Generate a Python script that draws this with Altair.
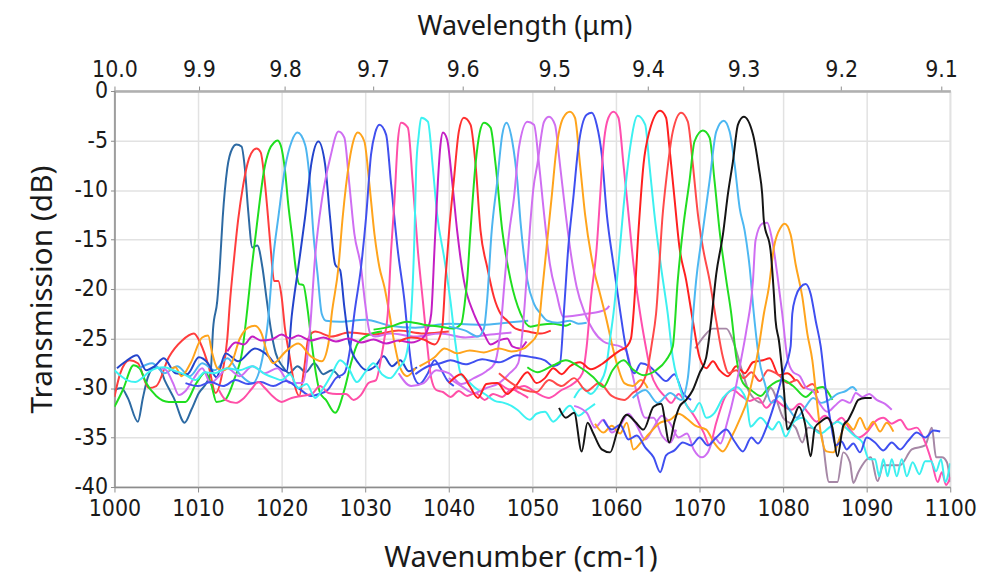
import altair as alt
import pandas as pd

# ---------------- data (wavenumber cm-1, transmission dB) ----------------
S01 = [(1000,-30.2),(1000.8,-30),(1001.6,-31),(1002.8,-33.4),(1003.4,-31),(1004,-28.9),(1004.8,-27.9),(1005.4,-28),(1006,-29.2),(1007.1,-31),(1008.4,-33.5),(1009.2,-32.2),(1010.1,-30.5),(1011,-29.5),(1011.5,-28.5),(1011.8,-24),(1012.3,-21.2),(1012.6,-17.8),(1012.95,-12.8),(1013.5,-7.8),(1014.1,-5.8),(1014.6,-5.4),(1015.2,-5.6),(1015.6,-7.8),(1016,-12.1),(1016.5,-15.8),(1017.1,-15.6),(1017.7,-17.8),(1018.2,-21),(1018.7,-24),(1019.3,-26.5),(1020.1,-27.8),(1020.9,-28.5),(1021.9,-27.8),(1022.9,-28.4),(1023.9,-27.5),(1025,-28.6),(1026,-28.2),(1027,-29)]
S02 = [(1000,-30.9),(1000.7,-28.5),(1001.8,-27.2),(1002.8,-27.5),(1004.1,-30),(1005,-29.8),(1006.5,-26.9),(1008.1,-25.2),(1009.5,-24.5),(1010.3,-25.5),(1011.3,-27.9),(1012.1,-30.5),(1012.9,-28.5),(1013.5,-25),(1013.8,-21.5),(1014.3,-17),(1014.8,-13),(1015.4,-9.5),(1016.1,-6.8),(1016.6,-6),(1017,-5.8),(1017.5,-6.2),(1017.9,-8.5),(1018.3,-12),(1018.7,-16),(1019.1,-19.2),(1019.6,-19.2),(1020,-20.8),(1020.4,-24),(1020.9,-26.5),(1021.5,-29.5),(1022.1,-30.8),(1022.7,-28),(1023.2,-25),(1024,-24.3),(1026,-24.8),(1028,-24.4),(1031,-24.6),(1034,-24.2),(1037,-24.5),(1040,-24.3)]
S03 = [(1000,-31.9),(1001,-30.2),(1002.3,-27.7),(1003,-28),(1003.8,-29.5),(1005,-30.8),(1006.5,-31.4),(1008.5,-31.4),(1009.8,-29.5),(1010.9,-28.4),(1011.6,-29.7),(1012.2,-31.4),(1013.2,-31.2),(1014.3,-29.2),(1015.3,-26.2),(1015.9,-22),(1016.4,-18),(1016.9,-14.5),(1017.4,-11),(1017.9,-8),(1018.5,-6),(1019.1,-5.2),(1019.5,-5.0),(1019.9,-5.5),(1020.4,-8),(1020.8,-11.5),(1021.3,-15),(1021.7,-18),(1022.1,-19.5),(1022.6,-19.6),(1023.1,-22),(1023.6,-25.5),(1024.1,-28.5),(1024.6,-30.5),(1025.3,-31.2),(1026.4,-32.5),(1027.5,-30.2),(1028.3,-27.5),(1029.1,-25.5),(1030.5,-24.6),(1032,-24.3)]
S04 = [(1003,-28),(1004.5,-27.5),(1006,-28.5),(1007.5,-27.8),(1009,-28.8),(1010.5,-27.5),(1012,-28.2),(1013.5,-27),(1015,-28.6),(1016.5,-29.5),(1017.7,-27),(1018.4,-23),(1019,-16.8),(1019.6,-12.8),(1020.4,-7.8),(1021.2,-5.1),(1021.9,-4.2),(1022.8,-5.4),(1023.4,-9.4),(1023.8,-14.4),(1024.3,-18.5),(1024.8,-22.5),(1025.3,-23.2),(1027,-23.3),(1030,-23.1),(1033,-23.7),(1036,-23.9),(1040,-23.5),(1044,-23.6),(1047,-23.4),(1049.5,-23.2)]
S05 = [(1000.3,-28),(1001.2,-27.4),(1002.7,-26.7),(1003.8,-28.2),(1004.8,-27.8),(1005.9,-27),(1007.3,-28.5),(1008.7,-28.6),(1010.1,-26.9),(1011.2,-27.5),(1012.2,-28.9),(1013.3,-26.5),(1014.8,-27.3),(1016.8,-26),(1018.2,-26.6),(1019.5,-27.8),(1020.6,-28.3),(1021.2,-22.8),(1022,-17.8),(1022.8,-12.8),(1023.6,-7.1),(1024.4,-5.1),(1025.2,-7.4),(1025.8,-12.8),(1026.4,-17.5),(1027,-18.1),(1027.5,-21.8),(1028.1,-25.5),(1029.2,-27.5),(1030.2,-28.2),(1031.2,-27.8),(1032.2,-26.8),(1033.2,-27.8),(1034.2,-27.2),(1035.2,-28.3),(1036.2,-27.9)]
S06 = [(1005.6,-28),(1006.2,-28.2),(1007,-29.5),(1007.7,-30.7),(1008.5,-30.3),(1009.5,-29),(1010.5,-28),(1011.5,-29.5),(1012.5,-28.8),(1013.5,-28),(1015,-28.8),(1016.5,-27.8),(1018,-28.5),(1019.5,-28),(1021,-29.5),(1022.5,-29.5),(1023.4,-24),(1024,-16.8),(1024.8,-11.1),(1025.8,-6.8),(1026.8,-4.1),(1027.5,-4.7),(1028.1,-9.4),(1028.7,-14.4),(1029.5,-17.8),(1030,-21.5),(1030.6,-24.5),(1031.2,-24.8),(1033,-24.5),(1036,-24.8),(1039,-24.5),(1042,-24.9),(1045,-24.6),(1047.5,-24.4)]
S07 = [(1006.5,-28.2),(1007.3,-27.9),(1008,-28.8),(1009.1,-27.5),(1010.5,-24.9),(1011.2,-24.7),(1011.7,-26.5),(1012.3,-28),(1013,-28.2),(1014,-27.5),(1015,-25),(1016,-23.9),(1016.8,-23.7),(1017.6,-24.5),(1018.3,-26.5),(1019,-27.5),(1020.5,-26.3),(1022,-25.5),(1023.5,-26.8),(1024.8,-27.3),(1025.6,-25.5),(1026,-22.5),(1026.8,-17.8),(1027.3,-12.8),(1028.1,-7.1),(1028.6,-5),(1029.1,-4.2),(1029.9,-5.1),(1030.5,-9.4),(1031.1,-14.4),(1031.7,-17.8),(1032.3,-19.8),(1032.9,-22.5),(1033.5,-25.5),(1034.2,-28),(1035,-28.8),(1036,-28)]
S08 = [(1008.5,-29.5),(1010,-29.8),(1011.5,-29.4),(1013,-29.8),(1014.5,-29.2),(1016,-29.6),(1017.5,-29.4),(1019,-29.8),(1020.5,-29.3),(1022,-30),(1023.5,-30.8),(1024.5,-30.6),(1025.5,-30.2),(1026.5,-29),(1027.5,-28.5),(1028.2,-26),(1028.7,-22.5),(1029.5,-17.8),(1030.1,-12.8),(1030.7,-6.4),(1031.2,-4.2),(1031.7,-3.4),(1032.5,-4.4),(1033.1,-9.4),(1033.9,-16.1),(1034.7,-21.2),(1035.2,-25.5),(1035.7,-28.5),(1036.5,-29.6),(1037.5,-28.5),(1038.3,-27.2),(1039,-28),(1039.8,-29.2),(1040.6,-29.8)]
S09 = [(1012.5,-30.2),(1013.3,-31.2),(1014.5,-31.5),(1015.5,-31),(1016.4,-30.1),(1017.2,-29.4),(1018,-30),(1018.9,-30.8),(1020,-31.4),(1021.2,-31),(1022.4,-30.8),(1023.6,-30.6),(1024.6,-29.8),(1025.6,-30.5),(1026.6,-30.6),(1027.7,-30.6),(1028.6,-31.2),(1029.5,-30.7),(1030.4,-29.5),(1031.3,-29.2),(1031.9,-27),(1032.3,-25),(1032.7,-22.5),(1033.1,-16.1),(1033.5,-11.1),(1033.9,-5.1),(1034.3,-3.2),(1035.1,-3.7),(1035.7,-9.4),(1036.3,-16.1),(1036.9,-21.2),(1037.4,-25.5),(1037.9,-29),(1038.5,-30.2),(1039.3,-30.4),(1040.2,-30.9),(1041.2,-30.3),(1042.2,-30.8),(1043.2,-30.5),(1044.3,-31.2),(1045.3,-30.6),(1046.4,-30.9),(1047.5,-30.1),(1048.5,-30.5),(1049.5,-31)]
S10 = [(1000,-28.2),(1000.8,-28.8),(1001.5,-29.2),(1002.5,-29.4),(1003.3,-29),(1004.1,-28.4),(1005,-28),(1006,-27.9),(1007,-28.2),(1008.3,-28.6),(1009.7,-29.2),(1010.8,-28.4),(1012,-28.5),(1013.5,-28),(1015,-28.2),(1016.5,-27.8),(1018,-28.6),(1019.2,-29),(1020,-29.2),(1021,-28.6),(1022,-30),(1023,-29.6),(1024,-31),(1025,-30),(1026,-28.6),(1027,-27.2),(1028,-28),(1029,-29.4),(1030,-28.4),(1031,-27.5),(1032,-28.6),(1033,-29),(1034,-28),(1034.8,-27),(1035.5,-22.5),(1035.9,-14.4),(1036.1,-7.8),(1036.4,-4.5),(1036.7,-2.7),(1037.5,-3.1),(1038.1,-7.8),(1038.6,-12.4),(1039.5,-17.1),(1040.2,-21.2),(1040.8,-25.5),(1041.4,-28.5),(1042.2,-29.2),(1043.2,-30),(1044.3,-30.6),(1045.5,-31.3),(1046.6,-31.5),(1047.5,-31.8),(1048.2,-32.2),(1049.7,-33.2),(1050.5,-32.6),(1051.5,-32.4),(1052.5,-33.4),(1053.5,-32.6),(1054.5,-31.8),(1055.5,-32.8),(1056.5,-32.2),(1057.5,-31.6)]
S11 = [(1013.5,-26.3),(1014.5,-25.4),(1015.5,-25.6),(1016.5,-24.8),(1017.5,-25.2),(1018.8,-25.1),(1020,-24.6),(1021,-25),(1022,-24.7),(1023.5,-25.2),(1025,-24.9),(1026.5,-25.3),(1028,-25),(1029.5,-25.4),(1031,-25.1),(1032.5,-25.5),(1034,-25.2),(1035.5,-25.4),(1036.8,-25),(1037.5,-24),(1037.9,-22.5),(1038.3,-15.8),(1038.7,-9.1),(1039,-5.5),(1039.3,-4.2),(1039.8,-4.9),(1040.4,-9.1),(1041,-14.1),(1041.8,-19.1),(1043,-22.5),(1044.2,-24.5),(1045,-25.6),(1046,-25.2),(1047,-25),(1047.6,-25.8),(1048.5,-26),(1049.3,-25.3)]
S12 = [(1034,-25.3),(1035.5,-24.9),(1037,-25.1),(1038.3,-25.6),(1039.2,-24),(1039.6,-19),(1040.1,-13.5),(1040.6,-9.1),(1041.2,-4.1),(1041.8,-2.7),(1042.6,-3.4),(1043.2,-7.4),(1043.8,-14.1),(1044.6,-17.8),(1045.4,-20.8),(1046.2,-22.5),(1047,-23.2),(1048,-24),(1049.5,-24.3),(1051,-24.5),(1052.2,-24.2)]
S13 = [(1031,-24.1),(1033,-23.8),(1035,-23.3),(1037,-23.6),(1039,-23.8),(1040.5,-24),(1041.5,-23.5),(1041.9,-21.5),(1042.2,-19.1),(1042.6,-14.1),(1043.2,-7.4),(1043.7,-4.2),(1044.2,-3.2),(1045,-3.7),(1045.6,-7.4),(1046.4,-14.1),(1047.4,-19.1),(1048.6,-22.5),(1049.8,-23.8),(1051,-23.6),(1052.5,-23.5),(1054,-23.7),(1054.6,-23.5)]
S14 = [(1040,-23.8),(1042,-24.2),(1043.5,-24.8),(1044.2,-24),(1044.6,-21),(1045.1,-14.5),(1045.8,-9.1),(1046.4,-4.4),(1046.9,-3.2),(1047.6,-5.1),(1048.2,-9.1),(1048.6,-13.4),(1049.4,-19.1),(1050.2,-21.5),(1051,-22.5),(1051.8,-23.2),(1053,-23.4),(1054.5,-23.2),(1055.5,-23.5),(1056.5,-23.4)]
S15 = [(1034,-28.5),(1035.5,-29.8),(1037,-29.5),(1038.5,-28.2),(1040,-28.5),(1041.5,-29.6),(1043,-29),(1044.5,-28.3),(1045.5,-27.5),(1046.2,-24),(1046.7,-19),(1047.2,-14.5),(1047.8,-10.8),(1048.4,-5.7),(1049.4,-3.1),(1050.2,-3.4),(1050.8,-7.4),(1051.4,-12.4),(1052.1,-17.5),(1052.9,-20.5),(1053.7,-22.8),(1055,-22.7),(1056.5,-22.5),(1058,-22.3),(1058.9,-22),(1059.2,-21.7)]
S16 = [(1040,-29),(1041.5,-29.8),(1043,-30.5),(1044.5,-30),(1046,-29.5),(1047.3,-28.5),(1048.3,-27.5),(1048.8,-24.5),(1049.3,-19),(1049.7,-14),(1050.1,-10),(1050.6,-7.4),(1051.4,-3.1),(1052,-2.6),(1052.7,-3.4),(1053.3,-7.4),(1053.9,-11.8),(1054.5,-15.8),(1055.3,-19.8),(1056.3,-22.5),(1057.3,-24.2),(1058.5,-25.3),(1059.5,-25.6),(1060.5,-25.8),(1061.2,-26.2),(1061.8,-28),(1062.5,-30.5),(1063.5,-33),(1064.5,-33),(1065.5,-34.8),(1066.5,-35.5),(1067.2,-34.2)]
S17 = [(1036.5,-27.8),(1038.3,-26.9),(1039.5,-26),(1041,-26.5),(1042.5,-26.2),(1044.2,-26.4),(1046,-26),(1047.5,-26.3),(1049,-26),(1049.7,-25.5),(1050.6,-24.5),(1051.2,-20),(1051.7,-15.8),(1052.3,-10.8),(1052.9,-5.7),(1053.7,-2.7),(1054.5,-2.1),(1055.1,-2.7),(1055.7,-7.4),(1056.3,-12.4),(1057.3,-17.8),(1058.1,-20.5),(1058.9,-23.2),(1059.5,-25.5),(1060.2,-27.8),(1061,-29.5),(1062,-29.8),(1063,-29.2),(1063.8,-30)]
S18 = [(1036,-28.6),(1037.5,-27.8),(1039,-27.5),(1040.2,-27.2),(1042,-27.6),(1044,-27.1),(1046,-27.4),(1048.2,-26.7),(1050,-26.9),(1051.5,-27.2),(1052.5,-27.8),(1053.3,-27.5),(1053.8,-22),(1054.3,-15.8),(1054.9,-10.8),(1055.5,-5.7),(1056.5,-2.4),(1057.1,-2.2),(1057.7,-3.4),(1058.3,-6.4),(1058.9,-12.4),(1059.7,-17.5),(1060.5,-22.2),(1061.1,-25.5),(1061.6,-27.5),(1062.2,-28.5),(1063,-27.5),(1064,-27.8),(1065,-28.6),(1066,-29.3),(1067,-28.6),(1068,-30.5),(1069,-31.2)]
S19 = [(1046,-29.5),(1047.5,-30.2),(1049,-29.8),(1050.5,-30.5),(1052,-31),(1053.5,-30.2),(1055,-29.5),(1056,-28.5),(1056.5,-25.8),(1057,-21),(1057.7,-15.8),(1058.1,-10.8),(1058.5,-5.7),(1059.1,-2.7),(1059.7,-2.1),(1060.3,-2.7),(1060.9,-7.4),(1061.5,-12.4),(1062.1,-17.5),(1062.9,-22.5),(1063.5,-25.5),(1064.2,-28.5),(1065,-30),(1065.8,-30.8),(1066.6,-31.5),(1067.5,-30.6),(1068.5,-31.8),(1069.5,-33),(1070.5,-34.5),(1071.2,-35.8),(1072,-33.5),(1073,-31),(1074,-30.2),(1075,-30.8),(1076,-31.3),(1077,-31),(1078,-32),(1079,-31.2),(1080,-31.8),(1081,-32.2),(1082,-31.6),(1083,-32.5),(1084,-33.4),(1085,-32.8),(1086,-33.6),(1087,-33),(1088,-34.2),(1089,-35),(1090,-34.5),(1091,-33.4),(1092,-33),(1093,-33.6),(1094,-33.2),(1095,-34.2),(1096,-34),(1097,-35.5),(1097.8,-37.5),(1098.5,-39.5),(1099,-38.5),(1099.5,-39.8),(1100,-39)]
S20 = [(1055,-31),(1056,-30),(1057,-30.6),(1058,-29.6),(1058.8,-28),(1059.3,-25),(1059.7,-22.5),(1060.3,-17.5),(1060.9,-11.8),(1061.7,-5.7),(1062.6,-2.5),(1063.5,-3.4),(1064,-7.4),(1064.6,-12.4),(1065.4,-17.8),(1066.2,-22.5),(1066.8,-26.9),(1067.5,-29.5),(1068.3,-31.5),(1069.2,-32.4),(1070,-31.5),(1070.8,-33),(1071.8,-32.5),(1072.8,-31),(1073.8,-30.2),(1074.4,-29.9),(1075.6,-31.2),(1076.1,-33.9),(1077.3,-33),(1078.7,-34.2),(1079.5,-33.4),(1080.3,-34.9),(1081.2,-33.5),(1082.3,-33),(1083.3,-33.8),(1084.5,-34.6),(1085.5,-34),(1086.5,-33.4),(1087.5,-34),(1088.5,-34.8),(1089.5,-35.5),(1090.3,-37.2),(1091,-37.2),(1091.5,-38.9),(1092,-37.2),(1092.5,-38.9),(1093,-37.2),(1093.6,-38.9),(1094.2,-37.2),(1094.8,-38.9),(1095.5,-37.5),(1096.3,-38.7),(1097,-37.4),(1097.7,-37.4),(1098.3,-38.4),(1098.9,-37.2),(1099.4,-39.5),(1100,-37.6)]
S21 = [(1040,-29.5),(1041.5,-28.6),(1042.5,-29.8),(1043.5,-31),(1044.5,-29.6),(1045.8,-29.5),(1047,-30.6),(1048,-29.8),(1049.4,-28.4),(1050.5,-29.5),(1051.5,-29),(1052.5,-28),(1053.5,-28.6),(1054.5,-27.8),(1055.7,-27.4),(1057,-28.1),(1058.3,-27.6),(1059.5,-26.8),(1060.5,-26.2),(1061.3,-25.8),(1061.8,-25),(1062.1,-22.5),(1062.7,-14.1),(1063.3,-7.4),(1064,-4.1),(1065.3,-2),(1066,-2.7),(1066.4,-5.7),(1067,-10.8),(1067.6,-15.8),(1068.4,-19.1),(1069.2,-23.2),(1070,-26.9),(1070.8,-28),(1071.6,-27.3),(1072.4,-28.2),(1073.4,-28.8),(1074.4,-27.8),(1075.4,-28.5),(1076.4,-27.4),(1077.6,-27.2),(1078.4,-27),(1079.5,-28.7),(1080.5,-28.5),(1081.5,-29.3)]
S22 = [(1046,-28.5),(1047.5,-29.5),(1049,-30.2),(1050.5,-30.4),(1052,-29.2),(1053.5,-29.8),(1055,-29),(1056.5,-30.3),(1058,-29.5),(1059.5,-30.8),(1061,-31.2),(1062,-30.5),(1063,-29.8),(1063.8,-28),(1064.3,-25.5),(1064.8,-22.5),(1065.6,-12.4),(1066,-9.1),(1066.8,-4.1),(1067.8,-2.2),(1068.6,-3.1),(1069.2,-7.4),(1069.8,-12.4),(1070.4,-15.8),(1071.2,-19.1),(1072,-23.2),(1072.8,-26.9),(1073.5,-28.5),(1074.4,-28.2),(1075.3,-29),(1076.2,-28.4),(1077.2,-29.3),(1078.2,-28.2),(1079.5,-28.7),(1080.6,-29.5),(1081.6,-29.2),(1082.5,-30),(1083.5,-29.6),(1084.2,-30.5)]
S23 = [(1049.4,-27.9),(1050.6,-28.4),(1052.5,-27.7),(1054,-27.2),(1055.5,-27.8),(1057.3,-28.9),(1058.5,-29.9),(1059.6,-28.2),(1060.9,-27.2),(1062,-28.1),(1063.3,-28.7),(1064.8,-28.2),(1066,-27.2),(1066.8,-25.8),(1067.4,-19.1),(1068,-14.1),(1068.8,-9.1),(1069.4,-5.1),(1070.4,-4),(1071.2,-4.7),(1071.8,-9.1),(1072.4,-14.1),(1073.2,-19.1),(1073.8,-22.5),(1074.4,-26.9),(1075.2,-29.5),(1076.3,-30.3),(1077.3,-30.8),(1078.3,-29.9),(1079.9,-29.2),(1081.2,-29.8),(1082.7,-30.9),(1083.7,-30.2),(1084.7,-29.9),(1085.9,-31.2)]
S24 = [(1062,-31),(1063.5,-30.2),(1065,-31.5),(1066.5,-30.5),(1067.8,-31.2),(1068.6,-29),(1069.1,-24),(1069.6,-19.1),(1070.4,-14.1),(1071.2,-9.1),(1072,-4.1),(1072.9,-3),(1073.6,-4.1),(1074.2,-7.4),(1074.8,-11.8),(1075.4,-14.1),(1076,-17.8),(1076.5,-22.5),(1077.1,-26.9),(1077.8,-29.5),(1078.6,-31.5),(1079.6,-30.8),(1080.6,-32),(1081.6,-33),(1082.6,-32),(1083.6,-31),(1084.6,-31.5),(1085.5,-31.2),(1086.5,-30.6),(1087.5,-30.3),(1088.3,-29.9),(1088.8,-30.3)]
S25 = [(1053.2,-32.0),(1054,-33),(1055,-32.5),(1055.9,-36.4),(1056.6,-33.5),(1057.3,-34.6),(1058.3,-36.2),(1059.3,-36.5),(1060.2,-34.3),(1061.3,-32.7),(1062.3,-33.4),(1063.3,-34.2),(1064.5,-31.9),(1065.4,-31.6),(1066.4,-35.5),(1067,-33.4),(1067.6,-31.9),(1068.4,-31.2),(1069.2,-30.2),(1070,-28.5),(1070.8,-26.9),(1071.4,-23.2),(1072,-18.5),(1072.8,-14.5),(1073.4,-10.4),(1074,-7.1),(1074.6,-3.4),(1075.3,-2.6),(1076.4,-4.4),(1077.1,-7.8),(1077.5,-10.4),(1077.7,-13.1),(1078.5,-16.1),(1078.9,-20.5),(1079.1,-23.2),(1079.5,-25.2),(1080.1,-30.2),(1080.5,-34.2),(1081.2,-33.2),(1081.9,-31.9),(1082.6,-33.5),(1083.3,-36.9),(1083.8,-34),(1084.5,-33.4),(1085.3,-33),(1085.9,-34),(1086.5,-36.9),(1087.2,-33.8),(1087.8,-33.2),(1088.4,-32.2),(1089,-31.2),(1089.8,-31),(1090.6,-31)]
S26 = [(1055,-31.8),(1056.5,-32.5),(1057.5,-34),(1058.5,-33.2),(1059.5,-34.5),(1060.5,-33.8),(1061.5,-32.6),(1062.5,-33.8),(1063.5,-35.2),(1064.5,-34),(1065.5,-32.8),(1066.5,-33.6),(1067.5,-35),(1068.5,-34.6),(1069.3,-36.2),(1070.3,-37),(1071,-36.5),(1071.8,-35),(1072.5,-35.6),(1073.3,-33.5),(1074.2,-30.5),(1075,-27),(1075.6,-24.2),(1076.4,-19.1),(1076.7,-15.1),(1077.5,-13.4),(1078.1,-13.3),(1078.7,-15.1),(1079.3,-18.5),(1079.9,-22.5),(1080.5,-26.9),(1081.2,-28.4),(1082,-28.8),(1082.8,-30),(1083.6,-30.3),(1084.4,-31.6),(1085.3,-32.4),(1086.2,-31.8),(1087.1,-31.2),(1088,-31.5),(1088.7,-30.5),(1089.5,-30.9),(1090.3,-30.6),(1091.2,-31.2),(1092.2,-31.6),(1093,-32.2)]
S27 = [(1057.5,-33.6),(1058.5,-34.5),(1059.5,-33.8),(1060.5,-34.6),(1061.3,-33.5),(1062.1,-36.2),(1063,-35.5),(1064,-34.6),(1065.3,-33.5),(1066.5,-33.2),(1067.5,-32.6),(1068.5,-33.1),(1069.5,-33.8),(1070.8,-34.2),(1071.8,-35.6),(1072.8,-36.4),(1073.8,-35),(1074.8,-33.2),(1075.8,-31),(1076.5,-28.5),(1077.1,-25.8),(1077.7,-22.5),(1078.3,-19.8),(1078.9,-15.8),(1079.7,-13.8),(1080.2,-13.4),(1080.9,-14.5),(1081.5,-17.5),(1082.3,-20.8),(1082.9,-24.5),(1083.5,-27.2),(1084,-31),(1084.5,-34.5),(1085.2,-36.4),(1086,-36.5),(1086.8,-35),(1087.6,-33.5),(1088.4,-34.2),(1089.2,-33),(1090,-34.2),(1090.8,-33.4),(1091.6,-34.4),(1092.4,-33.5),(1093.2,-34.4)]
S28 = [(1058.5,-33.2),(1059.5,-34.2),(1060.5,-33.7),(1061.5,-35.2),(1062.5,-34.8),(1063.5,-36),(1064.5,-37),(1065.3,-38.5),(1066,-36.8),(1067,-36.3),(1068,-35.5),(1069,-35.8),(1070,-35),(1071,-35.8),(1072,-35),(1073.2,-34.2),(1074.2,-35.4),(1075.2,-36.4),(1076.2,-35),(1077,-35.6),(1078,-34),(1079,-31.5),(1080,-28.5),(1080.9,-25.8),(1081.1,-22.5),(1081.5,-20.8),(1082.1,-19.8),(1082.7,-19.5),(1083.3,-20.5),(1083.9,-23.2),(1084.5,-25.8),(1085.1,-30.2),(1085.7,-33.5),(1086.3,-35.8),(1087,-35.4),(1087.6,-36.2),(1088.4,-35.6),(1089.2,-36.5),(1090,-35),(1091,-35.5),(1092,-36.3),(1093,-35.5),(1094,-36.2),(1095,-35.3),(1096,-34.5),(1097,-35),(1098,-34.3),(1098.8,-34.4)]
S29 = [(1069.5,-26),(1070.5,-24.8),(1071.6,-24),(1073.2,-24),(1074,-25.2),(1075,-28),(1076,-30.5),(1077.5,-31.5),(1078.5,-30),(1080,-33),(1081.5,-34),(1082.3,-35.5),(1083,-34),(1084.5,-34.5),(1085.5,-39.5),(1086.5,-39.5),(1087.2,-36.5),(1088,-37.5),(1088.4,-39.6),(1089,-38.5),(1090.5,-37),(1091.3,-39.4),(1092,-37.8),(1094,-37.8),(1095.4,-36.2),(1097,-35.8),(1097.8,-34),(1098.3,-37),(1099,-37),(1099.6,-37.5),(1100,-39.5)]

# drawing order (black on top)
SERIES = [S29, S01, S02, S03, S04, S05, S06, S07, S08, S09, S10, S11, S12, S13, S14,
          S15, S16, S17, S18, S19, S20, S21, S22, S23, S24, S26, S27, S28, S25]
NAMES = ["s29", "s01", "s02", "s03", "s04", "s05", "s06", "s07", "s08", "s09", "s10", "s11", "s12",
         "s13", "s14", "s15", "s16", "s17", "s18", "s19", "s20", "s21", "s22", "s23", "s24",
         "s26", "s27", "s28", "s25"]
COLORS = ["#a688a6", "#2d6aa3", "#ff3d3d", "#1fde1f", "#4db5f0", "#2344cc", "#cf6ef2", "#ffa41c",
          "#4150ee", "#ff4fa7", "#3df2f2", "#c41ec4", "#ff3030", "#1fde1f", "#4db5f0", "#cf6ef2",
          "#d070f0", "#ffa41c", "#3f4ff0", "#ff4fae", "#3df0f0", "#ff2020", "#ff4a4a", "#22dd22",
          "#4db8f2", "#cf6ef2", "#ffa41c", "#3f4ff0", "#151515"]

BOTTOM_TICKS = [1000, 1010, 1020, 1030, 1040, 1050, 1060, 1070, 1080, 1090, 1100]
Y_TICKS = [-40, -35, -30, -25, -20, -15, -10, -5, 0]
WAVELENGTHS = [10.0, 9.9, 9.8, 9.7, 9.6, 9.5, 9.4, 9.3, 9.2, 9.1]

rows = []
for name, pts in zip(NAMES, SERIES):
    for i, (x, y) in enumerate(pts):
        rows.append({"series": name, "wn": x, "db": y, "i": i})
df = pd.DataFrame(rows)

TICK_FONT = "Liberation Sans Narrow, DejaVu Sans Condensed, Liberation Sans, sans-serif"
TITLE_FONT = "Noto Sans, Open Sans, sans-serif"

xscale = alt.Scale(domain=[1000, 1100], nice=False, zero=False)

lines = alt.Chart(df).mark_line(strokeWidth=2.0, clip=True, strokeJoin="round",
                                interpolate="monotone").encode(
    x=alt.X("wn:Q", scale=xscale,
            axis=alt.Axis(values=BOTTOM_TICKS, title="Wavenumber (cm-1)", grid=True,
                          labelFlush=False, labelOverlap=False, format="d",
                          tickSize=5, labelPadding=6,
                          titleX=408, titleY=80, titleBaseline="alphabetic",
                          titleAnchor="middle")),
    y=alt.Y("db:Q", scale=alt.Scale(domain=[-40, 0], nice=False, zero=False),
            axis=alt.Axis(values=Y_TICKS, title="Transmission (dB)", grid=True,
                          labelFlush=False, labelOverlap=False,
                          labelExpr="datum.value == 0 ? '0' : '-' + format(abs(datum.value), 'd')",
                          tickSize=4, labelPadding=3,
                          titleX=-63, titleY=199, titleBaseline="alphabetic",
                          titleFontSize=30, titleAnchor="middle")),
    color=alt.Color("series:N", scale=alt.Scale(domain=NAMES, range=COLORS), legend=None),
    order=alt.Order("i:Q"),
)

top = alt.Chart(pd.DataFrame({"wn": [1000.0, 1100.0]})).mark_point(opacity=0).encode(
    x=alt.X("wn:Q", scale=xscale,
            axis=alt.Axis(orient="top", values=[10000.0 / w for w in WAVELENGTHS],
                          labelExpr="format(10000 / datum.value, '.1f')",
                          title="Wavelength (μm)", grid=False, labelFlush=False,
                          labelOverlap=False, tickSize=5, labelPadding=5,
                          domainColor="#b0b0b0", domainWidth=2.5,
                          titleX=412, titleY=-57, titleBaseline="alphabetic",
                          titleFontSize=27, titleAnchor="middle")),
)

chart = alt.layer(lines, top).resolve_scale(x="independent").properties(
    width=840, height=398,
    autosize=alt.AutoSizeParams(type="none"),
    padding={"left": 107, "top": 82, "right": 50, "bottom": 90},
    background="white",
).configure_view(
    stroke="#d9d9d9", strokeWidth=1.5
).configure_axis(
    labelFont=TICK_FONT, labelFontSize=23, labelColor="#1a1a1a",
    titleFont=TITLE_FONT, titleFontSize=29, titleFontWeight="normal", titleColor="#1a1a1a",
    domainColor="#8c8c8c", domainWidth=1.5, tickColor="#8c8c8c", tickWidth=1,
    gridColor="#e2e2e2", gridWidth=1.5,
)

chart.save("out.html", embed_options={"renderer": "svg", "actions": False})
